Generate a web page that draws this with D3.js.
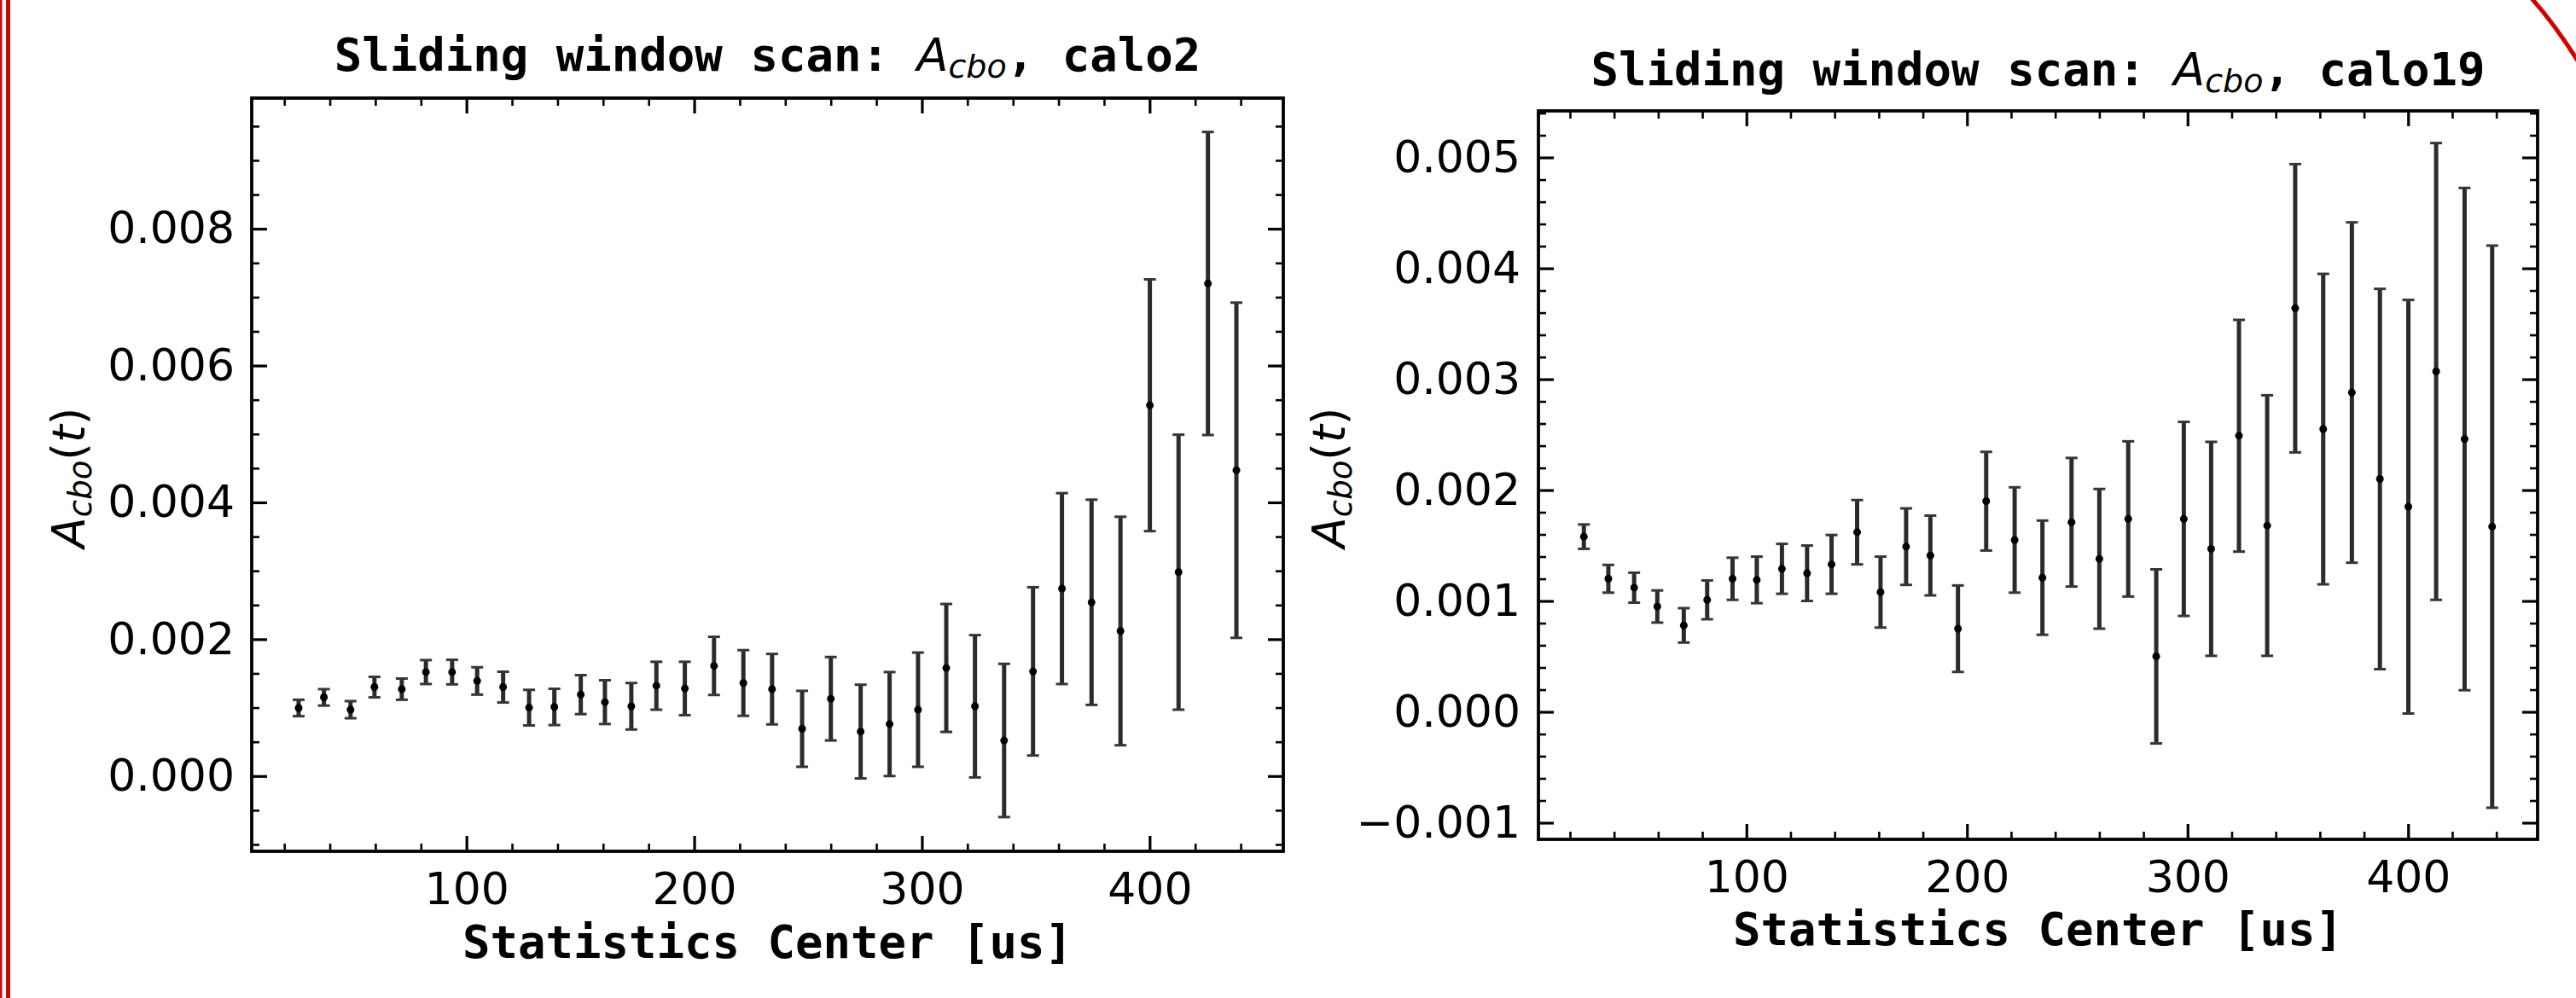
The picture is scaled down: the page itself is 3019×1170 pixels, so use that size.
<!DOCTYPE html>
<html>
<head>
<meta charset="utf-8">
<script src="https://cdn.jsdelivr.net/npm/d3@7.9.0/dist/d3.min.js"></script>
<style>
  html, body { margin: 0; padding: 0; background: #fff; }
  svg { display: block; }
  .tick text { font-family: "DejaVu Sans", sans-serif; font-size: 52px; fill: #000; }
</style>
</head>
<body>
<svg id="chart" width="3019" height="1170"></svg>
<script>
// window centers [us], same for both calos
const centers = [26.3, 37.4, 49.1, 59.6, 71.6, 82.2, 93.7, 104.7, 116.1, 127.5, 138.6, 150.2,
  160.8, 172.4, 183.4, 195.9, 208.7, 221.6, 234.2, 247.4, 260.0, 273.1, 285.8, 298.3,
  310.7, 323.3, 336.1, 348.8, 361.5, 374.5, 387.2, 400.1, 412.7, 425.6, 438.1];

const calo2Values = [0.000995, 0.00115, 0.00097, 0.0013, 0.00127, 0.00152, 0.00152, 0.00139,
  0.0013, 0.001, 0.00101, 0.00119, 0.00108, 0.00102, 0.00132, 0.00128, 0.00161, 0.00136,
  0.00127, 0.00069, 0.00113, 0.00065, 0.00076, 0.00097, 0.00158, 0.00102, 0.00052, 0.00153,
  0.00274, 0.00254, 0.00212, 0.00542, 0.00298, 0.0072, 0.00447];
const calo2Errors = [0.00012, 0.00012, 0.000125, 0.00015, 0.000155, 0.000175, 0.00018, 0.0002,
  0.000225, 0.00026, 0.000265, 0.000285, 0.00032, 0.00034, 0.00035, 0.00039, 0.000425, 0.00048,
  0.000515, 0.000555, 0.00061, 0.000685, 0.00076, 0.000835, 0.000935, 0.00104, 0.00112, 0.00123,
  0.001395, 0.0015, 0.00167, 0.00184, 0.00201, 0.002215, 0.00245];

const calo19Values = [0.00158, 0.0012, 0.00112, 0.00095, 0.00078, 0.00101, 0.0012, 0.00119,
  0.00129, 0.00125, 0.00133, 0.00162, 0.00108, 0.00149, 0.00141, 0.00075, 0.0019, 0.00155,
  0.00121, 0.00171, 0.00138, 0.00174, 0.0005, 0.00174, 0.00147, 0.00249, 0.00168, 0.00364,
  0.00255, 0.00288, 0.0021, 0.00185, 0.00307, 0.00246, 0.00167];
const calo19Errors = [0.00011, 0.000125, 0.000135, 0.000145, 0.000155, 0.000175, 0.00019, 0.00021,
  0.000225, 0.00025, 0.000265, 0.00029, 0.00032, 0.000345, 0.00036, 0.00039, 0.000445, 0.000475,
  0.000515, 0.00058, 0.00063, 0.0007, 0.000785, 0.000875, 0.000965, 0.001045, 0.001175, 0.0013,
  0.0014, 0.001535, 0.001715, 0.001865, 0.00206, 0.002265, 0.002535];

const xTicks = [100, 200, 300, 400];
const xMinorTicks = [20, 40, 60, 80, 120, 140, 160, 180, 220, 240, 260, 280, 320, 340, 360, 380, 420, 440];
const calo2YTicks = [0, 0.002, 0.004, 0.006, 0.008];
const calo19YTicks = [-0.001, 0, 0.001, 0.002, 0.003, 0.004, 0.005];

const svg = d3.select('#chart');

// red slide decorations around the figure
svg.append('rect').attr('x', 0).attr('y', 0).attr('width', 2.5).attr('height', 1170).attr('fill', '#c80a0a');
svg.append('rect').attr('x', 7).attr('y', 0).attr('width', 5).attr('height', 1170).attr('fill', '#c80a0a');
svg.append('path')
  .attr('d', 'M2966,-3 Q2994,28 3024,76')
  .attr('fill', 'none').attr('stroke', '#d00000').attr('stroke-width', 5);

function drawPanel(p) {
  const x = d3.scaleLinear().domain([5.7, 458.7]).range([p.left, p.right]);
  const y = d3.scaleLinear().domain(p.yDomain).range([p.bottom, p.top]);
  const g = svg.append('g');

  const minorY = d3.range(Math.ceil(p.yDomain[0] / p.yMinor), Math.floor(p.yDomain[1] / p.yMinor) + 1)
    .map((k) => +(k * p.yMinor).toFixed(6))
    .filter((v) => !p.yTicks.some((t) => Math.abs(t - v) < 1e-9));

  const axes = [
    [d3.axisBottom(x).tickValues(xTicks).tickFormat(d3.format('d')).tickSize(-18).tickPadding(25), `translate(0,${p.bottom})`],
    [d3.axisBottom(x).tickValues(xMinorTicks).tickFormat('').tickSize(-9), `translate(0,${p.bottom})`],
    [d3.axisTop(x).tickValues(xTicks).tickFormat('').tickSize(-18), `translate(0,${p.top})`],
    [d3.axisTop(x).tickValues(xMinorTicks).tickFormat('').tickSize(-9), `translate(0,${p.top})`],
    [d3.axisLeft(y).tickValues(p.yTicks).tickFormat(d3.format('.3f')).tickSize(-18).tickPadding(p.yPad), `translate(${p.left},0)`],
    [d3.axisLeft(y).tickValues(minorY).tickFormat('').tickSize(-9), `translate(${p.left},0)`],
    [d3.axisRight(y).tickValues(p.yTicks).tickFormat('').tickSize(-18), `translate(${p.right},0)`],
    [d3.axisRight(y).tickValues(minorY).tickFormat('').tickSize(-9), `translate(${p.right},0)`]
  ];
  axes.forEach(([axis, tr], i) => {
    const a = g.append('g').attr('transform', tr).call(axis);
    a.select('.domain').remove();
    a.selectAll('.tick line').attr('stroke', '#000').attr('stroke-width', i % 2 === 0 ? 3.2 : 2.6);
  });

  // error bars
  const bars = g.append('g');
  centers.forEach((c, i) => {
    const v = p.values[i], e = p.errors[i];
    const cx = x(c);
    bars.append('line')
      .attr('x1', cx).attr('x2', cx).attr('y1', y(v - e)).attr('y2', y(v + e))
      .attr('stroke', '#2b2b2b').attr('stroke-width', 5);
    [v - e, v + e].forEach((cy) => {
      bars.append('line')
        .attr('x1', cx - 7).attr('x2', cx + 7).attr('y1', y(cy)).attr('y2', y(cy))
        .attr('stroke', '#363636').attr('stroke-width', 3);
    });
    bars.append('circle').attr('cx', cx).attr('cy', y(v)).attr('r', 4.5).attr('fill', '#000');
  });

  // frame
  g.append('rect')
    .attr('x', p.left).attr('y', p.top)
    .attr('width', p.right - p.left).attr('height', p.bottom - p.top)
    .attr('fill', 'none').attr('stroke', '#000').attr('stroke-width', 3.8);

  const cxMid = (p.left + p.right) / 2;

  // title
  const title = g.append('text')
    .attr('x', cxMid).attr('y', p.titleY)
    .attr('text-anchor', 'middle')
    .style('font-family', '"DejaVu Sans Mono", monospace')
    .style('font-weight', 'bold').style('font-size', '54px');
  title.append('tspan').attr('xml:space', 'preserve').text('Sliding window scan: ');
  title.append('tspan').style('font-family', '"DejaVu Sans", sans-serif').style('font-weight', 'normal')
    .style('font-style', 'oblique').text('A');
  title.append('tspan').style('font-family', '"DejaVu Sans", sans-serif').style('font-weight', 'normal')
    .style('font-style', 'oblique').style('font-size', '38px').attr('dy', 8).text('cbo');
  title.append('tspan').attr('dy', -8).text(`, ${p.name}`);

  // x label
  g.append('text')
    .attr('x', cxMid).attr('y', p.xLabelY)
    .attr('text-anchor', 'middle')
    .style('font-family', '"DejaVu Sans Mono", monospace')
    .style('font-weight', 'bold').style('font-size', '54px')
    .text('Statistics Center [us]');

  // y label
  const yl = g.append('text')
    .attr('transform', `translate(${p.yLabelX},560) rotate(-90)`)
    .attr('text-anchor', 'middle')
    .style('font-family', '"DejaVu Sans", sans-serif').style('font-size', '53px');
  yl.append('tspan').style('font-style', 'oblique').text('A');
  yl.append('tspan').style('font-style', 'oblique').style('font-size', '37px').attr('dy', 8).text('cbo');
  yl.append('tspan').attr('dy', -8).text('(');
  yl.append('tspan').style('font-style', 'oblique').text('t');
  yl.append('tspan').text(')');
}

drawPanel({
  name: 'calo2', values: calo2Values, errors: calo2Errors,
  left: 295, right: 1504, top: 115, bottom: 998,
  yDomain: [-0.0011, 0.00991], yTicks: calo2YTicks, yMinor: 0.0005, yPad: 20,
  titleY: 83, xLabelY: 1123, yLabelX: 99
});

drawPanel({
  name: 'calo19', values: calo19Values, errors: calo19Errors,
  left: 1803, right: 2974, top: 130, bottom: 984,
  yDomain: [-0.00115, 0.00542], yTicks: calo19YTicks, yMinor: 0.0002, yPad: 21,
  titleY: 100, xLabelY: 1108, yLabelX: 1576
});
</script>
</body>
</html>
